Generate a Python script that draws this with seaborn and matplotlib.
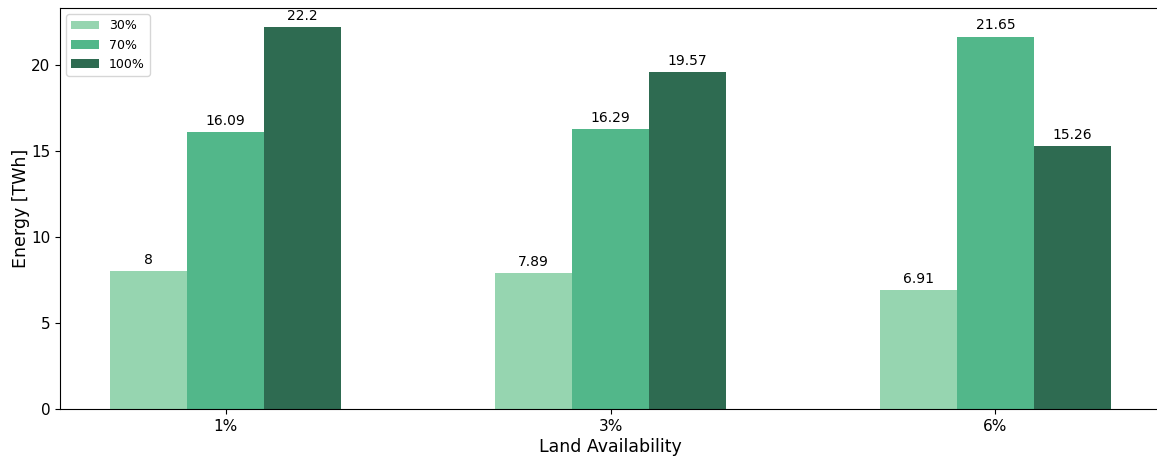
import matplotlib
matplotlib.use("Agg")
import matplotlib.pyplot as plt
import seaborn as sns
import pandas as pd

land = ["1%", "3%", "6%"]
shares = ["30%", "70%", "100%"]
energy_30 = [8, 7.89, 6.91]
energy_70 = [16.09, 16.29, 21.65]
energy_100 = [22.2, 19.57, 15.26]
colors = ["#96d5b0", "#52b78a", "#2e6b51"]

rows = []
for share, vals in zip(shares, [energy_30, energy_70, energy_100]):
    for l, v in zip(land, vals):
        rows.append({"Land Availability": l, "Share": share, "Energy": v})
df = pd.DataFrame(rows)

fig = plt.figure(figsize=(11.57, 4.57), dpi=100)
ax = fig.add_axes([60 / 1157, 48 / 457, 1101 / 1157, 401 / 457])

sns.barplot(data=df, x="Land Availability", y="Energy", hue="Share",
            hue_order=shares, order=land, palette=colors, width=0.6,
            saturation=1, ax=ax, errorbar=None, gap=0, linewidth=0)

for c in ax.containers:
    ax.bar_label(c, labels=[f"{v:g}" for v in c.datavalues], padding=3, fontsize=10)

ax.set_ylim(0, 23.31)
ax.set_xlim(-0.43, 2.43)
ax.set_xlabel("Land Availability", fontsize=12.5, labelpad=3)
ax.set_ylabel("Energy [TWh]", fontsize=12.5, labelpad=1)
ax.tick_params(labelsize=11)
ax.legend(title=None, loc="upper left", fontsize=9, handlelength=2.2,
          borderaxespad=0.5)

fig.savefig("out.png", dpi=100)
